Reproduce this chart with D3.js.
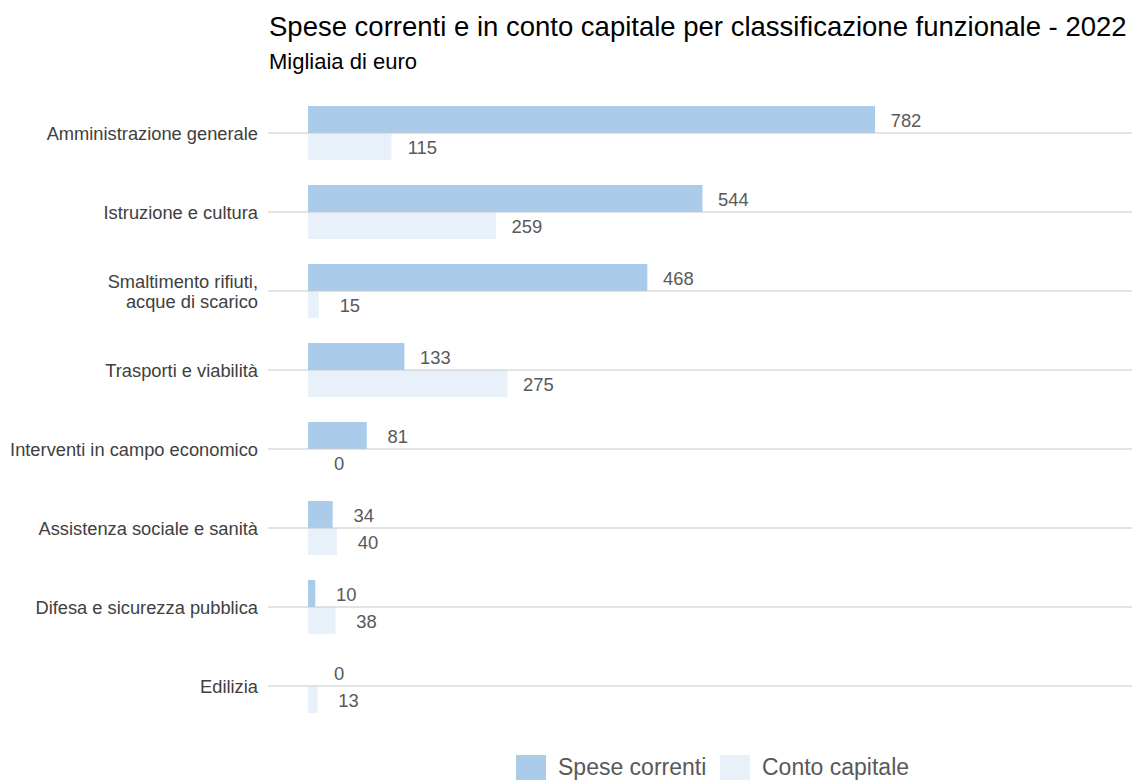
<!DOCTYPE html>
<html><head><meta charset="utf-8">
<script src="https://cdn.jsdelivr.net/npm/d3@7"></script>
<style>body{margin:0;background:#fff;} svg{display:block;font-family:"Liberation Sans",Arial,sans-serif;}</style>
</head><body>
<svg id="c" width="1132" height="780"></svg>
<script>
const categories = ["Amministrazione generale","Istruzione e cultura","Smaltimento rifiuti,\nacque di scarico","Trasporti e viabilità","Interventi in campo economico","Assistenza sociale e sanità","Difesa e sicurezza pubblica","Edilizia"];
const speseCorrenti = [782,544,468,133,81,34,10,0];
const contoCapitale = [115,259,15,275,0,40,38,13];
const seriesNames = ["Spese correnti","Conto capitale"];
const colors = ["#abcbea","#e8f1fa"];

const svg = d3.select("#c");
const x = d3.scaleLinear().domain([0,782]).range([308,875]);
const y = d3.scaleBand().domain(categories).range([93.5,725.5]).padding(0);
const ys = d3.scaleBand().domain(seriesNames).range([y.bandwidth()/2-27, y.bandwidth()/2+27]);

svg.append("text").attr("x",269).attr("y",36).attr("font-size",27.5).attr("fill","#000")
  .text("Spese correnti e in conto capitale per classificazione funzionale - 2022");
svg.append("text").attr("x",269).attr("y",68.5).attr("font-size",22).attr("fill","#000").text("Migliaia di euro");

const data = categories.map((c,i)=>({cat:c, vals:[speseCorrenti[i], contoCapitale[i]]}));

// bars
const g = svg.append("g");
data.forEach(d=>{
  d.vals.forEach((v,j)=>{
    const yy = y(d.cat)+ys(seriesNames[j]);
    g.append("rect").attr("x",x(0)).attr("y",yy).attr("width",x(v)-x(0)).attr("height",ys.bandwidth()).attr("fill",colors[j]);
    g.append("text").attr("x",x(v)+31).attr("y",yy+ys.bandwidth()/2+7)
      .attr("text-anchor","middle").attr("font-size",18.4).attr("fill","#595959").text(v);
  });
});

// gridlines
categories.forEach(c=>{
  const cy = y(c)+y.bandwidth()/2;
  svg.append("line").attr("x1",268).attr("x2",1132).attr("y1",cy).attr("y2",cy).attr("stroke","#c5c9c9").attr("stroke-width",1.2);
  const lines = c.split("\n");
  const t = svg.append("text").attr("x",258).attr("text-anchor","end").attr("font-size",18.3).attr("fill","#404040");
  lines.forEach((l,k)=>{
    t.append("tspan").attr("x",258).attr("y",cy+(lines.length>1?6.5:6.5)+(k-(lines.length-1)/2)*20).text(l);
  });
});

// legend
const leg = [{x:516,tx:558},{x:720,tx:762}];
seriesNames.forEach((s,j)=>{
  svg.append("rect").attr("x",leg[j].x).attr("y",755).attr("width",30).attr("height",25).attr("fill",colors[j]);
  svg.append("text").attr("x",leg[j].tx).attr("y",775).attr("font-size",23).attr("fill","#595959").text(s);
});
</script>
</body></html>
